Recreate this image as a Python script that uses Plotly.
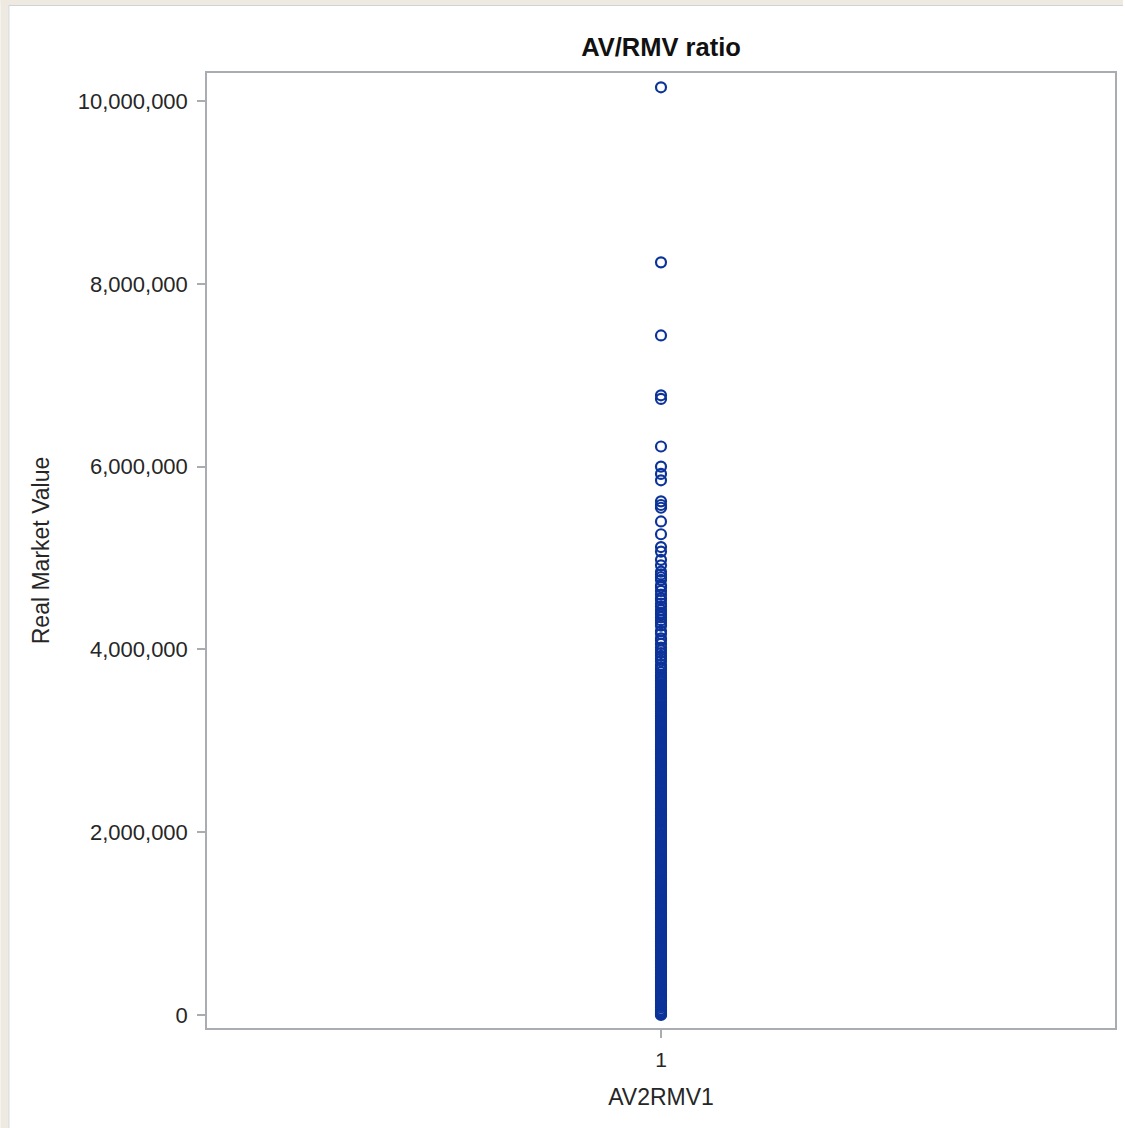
import plotly.graph_objects as go

# ---------------- data ----------------
category = "1"
# isolated high values (dollars)
outlier_values = [10150000, 8235000, 7435000, 6780000, 6740000, 6220000,
                  6000000, 5920000, 5850000, 5620000, 5580000, 5550000,
                  5400000, 5260000, 5120000, 5070000, 4980000, 4920000]
# dense upper band (thousands of dollars)
upper_values_k = [4850, 4820, 4790, 4760, 4700, 4680, 4640, 4600, 4560, 4540,
                  4500, 4470, 4430, 4400, 4380, 4350, 4320, 4290, 4260, 4200,
                  4170, 4120, 4100, 4060, 4020, 3990, 3960, 3930, 3900, 3870,
                  3830, 3800, 3780, 3750, 3720, 3700, 3680, 3660]
# solid bulk of the distribution (thousands of dollars)
lower_values_k = [3640, 3621, 3600, 3582, 3560, 3541, 3520, 3502, 3480, 3461,
                  3440, 3420, 3401, 3380, 3362, 3340, 3321, 3300, 3280, 3262,
                  3240, 3220, 3201, 3180, 3160, 3141, 3120, 3100, 3082, 3060,
                  3040, 3021, 3000, 2980, 2961, 2940, 2920, 2902, 2880, 2860,
                  2841, 2820, 2800, 2781, 2760, 2740, 2722, 2700, 2680, 2661,
                  2640, 2620, 2601, 2580, 2560, 2542, 2520, 2500, 2481, 2460,
                  2440, 2421, 2400, 2380, 2362, 2340, 2320, 2301, 2280, 2260,
                  2241, 2220, 2200, 2182, 2160, 2140, 2121, 2100, 2080, 2061,
                  2040, 2020, 2002, 1980, 1960, 1941, 1920, 1900, 1882, 1860,
                  1840, 1821, 1800, 1780, 1761, 1740, 1720, 1702, 1680, 1660,
                  1641, 1620, 1600, 1581, 1560, 1540, 1522, 1500, 1480, 1461,
                  1440, 1420, 1401, 1380, 1360, 1342, 1320, 1300, 1281, 1260,
                  1240, 1221, 1200, 1180, 1162, 1140, 1120, 1101, 1080, 1060,
                  1041, 1020, 1000, 982, 960, 940, 921, 900, 880, 861,
                  840, 820, 802, 780, 760, 741, 720, 700, 681, 660,
                  640, 622, 600, 580, 561, 540, 520, 501, 480, 460,
                  442, 420, 400, 381, 360, 340, 321, 300, 280, 262,
                  240, 220, 201, 180, 160, 141, 120, 100, 82, 60,
                  45, 30, 18, 8, 0]
y_tick_values = [0, 2000000, 4000000, 6000000, 8000000, 10000000]

values = outlier_values + [v * 1000 for v in upper_values_k] + [v * 1000 for v in lower_values_k]

# ---------------- figure ----------------
W, H = 1125, 1128
L, R, T, B = 207, 8, 73, 100
pw, ph = W - L - R, H - T - B

def px_x(p):
    return (p - L) / pw

def px_y(p):
    return (H - B - p) / ph

BLUE = "#0B3399"
AXIS = "#A9ADB2"
FONT = "Liberation Sans, Arial, sans-serif"
TXT = "#262626"

fig = go.Figure()
fig.add_trace(go.Scatter(
    x=[category] * len(values), y=values, mode="markers",
    marker=dict(symbol="circle-open", size=10, color=BLUE,
                line=dict(width=2.2, color=BLUE)),
    showlegend=False, hoverinfo="y"))

# window background: beige border strips at left / top
fig.add_shape(type="rect", xref="paper", yref="paper", layer="below",
              x0=px_x(0), x1=px_x(8), y0=px_y(H), y1=px_y(0),
              fillcolor="#EEEAE1", line=dict(width=0))
fig.add_shape(type="rect", xref="paper", yref="paper", layer="below",
              x0=px_x(0), x1=px_x(W), y0=px_y(5), y1=px_y(0),
              fillcolor="#EEEAE1", line=dict(width=0))
fig.add_shape(type="line", xref="paper", yref="paper", layer="below",
              x0=px_x(8.5), x1=px_x(8.5), y0=px_y(H), y1=px_y(5),
              line=dict(width=1, color="#CFD2D6"))
fig.add_shape(type="line", xref="paper", yref="paper", layer="below",
              x0=px_x(8.5), x1=px_x(W), y0=px_y(5.5), y1=px_y(5.5),
              line=dict(width=1, color="#CFD2D6"))

fig.update_layout(
    width=W, height=H,
    margin=dict(l=L, r=R, t=T, b=B, pad=0),
    paper_bgcolor="white", plot_bgcolor="white",
    font=dict(family=FONT, size=20, color=TXT),
    title=dict(text="<b>AV/RMV ratio</b>", x=0.5, xref="paper",
               xanchor="center", y=1 - 47 / H, yanchor="middle",
               font=dict(family=FONT, size=25.5, color="#111111")),
)
fig.update_xaxes(
    type="category",
    title=dict(text="AV2RMV1", standoff=19,
               font=dict(family=FONT, size=23, color=TXT)),
    tickfont=dict(family=FONT, size=21, color=TXT),
    showline=True, linecolor=AXIS, linewidth=1.5, mirror=True,
    ticks="outside", ticklen=8, tickcolor=AXIS, tickwidth=1.5,
    showgrid=False, zeroline=False, ticklabelstandoff=4)
fig.update_yaxes(
    title=dict(text="Real Market Value", standoff=22,
               font=dict(family=FONT, size=23, color=TXT)),
    tickfont=dict(family=FONT, size=22, color=TXT),
    range=[-142232, 10306346], tickvals=y_tick_values, tickformat=",",
    showline=True, linecolor=AXIS, linewidth=1.5, mirror=True,
    ticks="outside", ticklen=8, tickcolor=AXIS, tickwidth=1.5,
    showgrid=False, zeroline=False, ticklabelstandoff=5)

fig.write_html(
    "out.html",
    config={"displayModeBar": False},
    post_script="document.body.style.margin='0';document.body.style.padding='0';")
